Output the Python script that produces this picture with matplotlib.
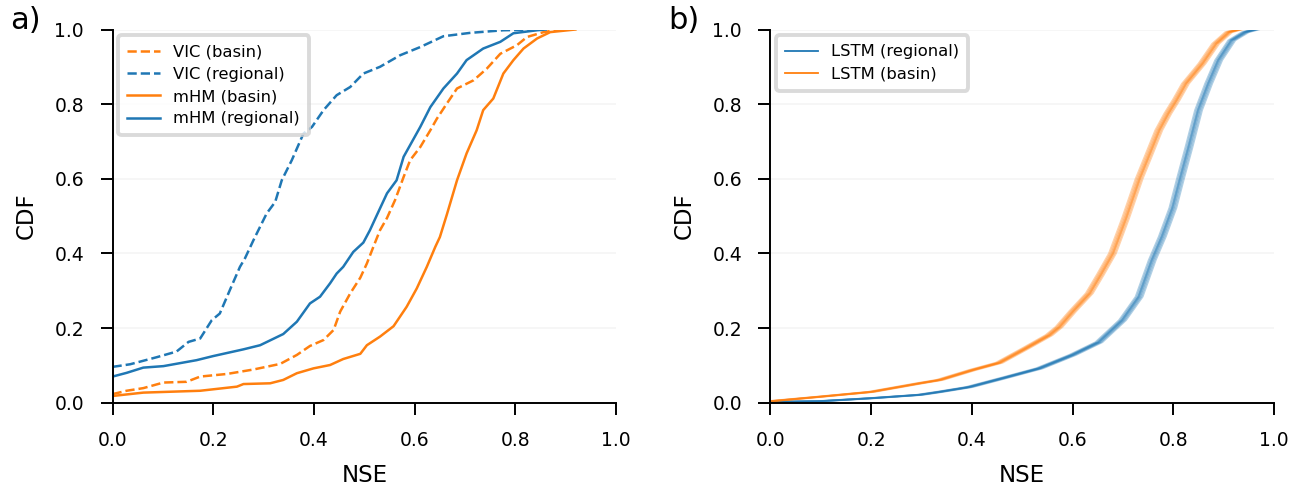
import matplotlib.pyplot as plt

# benchmark models: (NSE, CDF) pairs
vic_basin_nse = [0.0, 0.028, 0.061, 0.101, 0.147, 0.174, 0.227, 0.280, 0.333, 0.366, 0.392, 0.419, 0.439,
                 0.452, 0.472, 0.492, 0.505, 0.518, 0.531, 0.545, 0.561, 0.578, 0.591, 0.611, 0.631, 0.644,
                 0.664, 0.684, 0.717, 0.743, 0.770, 0.803, 0.823, 0.856, 0.889]
vic_basin_cdf = [0.023, 0.032, 0.039, 0.054, 0.056, 0.070, 0.077, 0.089, 0.104, 0.128, 0.152, 0.168, 0.195,
                 0.244, 0.293, 0.335, 0.373, 0.418, 0.462, 0.495, 0.543, 0.605, 0.650, 0.685, 0.730, 0.761,
                 0.802, 0.842, 0.864, 0.895, 0.935, 0.958, 0.980, 0.993, 1.0]

vic_regional_nse = [0.0, 0.035, 0.088, 0.127, 0.151, 0.174, 0.197, 0.213, 0.233, 0.253, 0.263, 0.280, 0.306,
                    0.323, 0.336, 0.356, 0.379, 0.396, 0.419, 0.445, 0.472, 0.498, 0.531, 0.571, 0.611, 0.657,
                    0.710, 0.776, 0.855]
vic_regional_cdf = [0.096, 0.103, 0.122, 0.137, 0.163, 0.172, 0.221, 0.239, 0.302, 0.364, 0.387, 0.436, 0.507,
                    0.538, 0.596, 0.650, 0.721, 0.739, 0.784, 0.824, 0.846, 0.882, 0.900, 0.931, 0.953, 0.982,
                    0.991, 0.998, 1.0]

mhm_basin_nse = [0.0, 0.061, 0.174, 0.247, 0.260, 0.313, 0.339, 0.366, 0.399, 0.432, 0.458, 0.492, 0.505,
                 0.531, 0.558, 0.584, 0.604, 0.624, 0.641, 0.650, 0.664, 0.684, 0.703, 0.723, 0.736, 0.756,
                 0.776, 0.796, 0.816, 0.843, 0.869, 0.919]
mhm_basin_cdf = [0.018, 0.027, 0.032, 0.043, 0.050, 0.052, 0.061, 0.079, 0.092, 0.101, 0.117, 0.131, 0.154,
                 0.177, 0.205, 0.257, 0.306, 0.364, 0.418, 0.444, 0.505, 0.596, 0.668, 0.730, 0.784, 0.815,
                 0.882, 0.918, 0.949, 0.976, 0.993, 1.0]

mhm_regional_nse = [0.0, 0.028, 0.061, 0.101, 0.167, 0.200, 0.260, 0.293, 0.339, 0.366, 0.392, 0.412, 0.432,
                    0.445, 0.458, 0.478, 0.498, 0.511, 0.525, 0.545, 0.564, 0.578, 0.611, 0.631, 0.657, 0.684,
                    0.703, 0.736, 0.770, 0.796, 0.843, 0.860]
mhm_regional_cdf = [0.070, 0.080, 0.094, 0.098, 0.114, 0.125, 0.143, 0.154, 0.184, 0.217, 0.266, 0.284, 0.320,
                    0.346, 0.364, 0.404, 0.429, 0.462, 0.503, 0.561, 0.596, 0.659, 0.739, 0.792, 0.842, 0.882,
                    0.918, 0.949, 0.967, 0.990, 0.998, 1.0]

# LSTM ensembles
lstm_basin_nse = [0.0, 0.098, 0.200, 0.296, 0.336, 0.402, 0.454, 0.507, 0.553, 0.573, 0.600, 0.633, 0.655,
                  0.679, 0.705, 0.732, 0.751, 0.771, 0.789, 0.806, 0.824, 0.857, 0.884, 0.910, 0.930]
lstm_basin_cdf = [0.004, 0.016, 0.029, 0.052, 0.061, 0.088, 0.107, 0.146, 0.181, 0.203, 0.245, 0.293, 0.343,
                  0.400, 0.494, 0.600, 0.663, 0.730, 0.775, 0.812, 0.855, 0.909, 0.962, 0.993, 1.0]

lstm_regional_nse = [0.0, 0.098, 0.200, 0.296, 0.336, 0.395, 0.468, 0.534, 0.600, 0.652, 0.699, 0.732, 0.758,
                     0.778, 0.799, 0.814, 0.831, 0.850, 0.870, 0.890, 0.916, 0.943, 0.963]
lstm_regional_cdf = [0.002, 0.004, 0.012, 0.021, 0.029, 0.042, 0.068, 0.092, 0.128, 0.162, 0.221, 0.284, 0.382,
                     0.445, 0.522, 0.600, 0.685, 0.784, 0.855, 0.918, 0.971, 0.993, 1.0]

# per-member NSE offsets of the ensemble runs
member_shift = [-0.007, -0.004, -0.002, 0.0, 0.002, 0.004, 0.007, -0.001]

blue = '#1f77b4'
orange = '#ff7f0e'

plt.rcParams['font.family'] = 'DejaVu Sans'

fig = plt.figure(figsize=(12.98, 4.87), dpi=100)
ax1 = fig.add_axes([0.0867, 0.1731, 0.3880, 0.7663])
ax2 = fig.add_axes([0.5936, 0.1731, 0.3880, 0.7663])

ax1.plot(vic_basin_nse, vic_basin_cdf, '--', color=orange, lw=1.8, label='VIC (basin)')
ax1.plot(vic_regional_nse, vic_regional_cdf, '--', color=blue, lw=1.8, label='VIC (regional)')
ax1.plot(mhm_basin_nse, mhm_basin_cdf, '-', color=orange, lw=1.8, label='mHM (basin)')
ax1.plot(mhm_regional_nse, mhm_regional_cdf, '-', color=blue, lw=1.8, label='mHM (regional)')

for i, s in enumerate(member_shift):
    ax2.plot([x + s for x in lstm_regional_nse], lstm_regional_cdf, color=blue, lw=1.3, alpha=0.35,
             label='LSTM (regional)' if i == 0 else None)
for i, s in enumerate(member_shift):
    ax2.plot([x - s for x in lstm_basin_nse], lstm_basin_cdf, color=orange, lw=1.3, alpha=0.35,
             label='LSTM (basin)' if i == 0 else None)

for ax in (ax1, ax2):
    ax.set_xlim(0, 1)
    ax.set_ylim(0, 1)
    ax.set_xticks([0, 0.2, 0.4, 0.6, 0.8, 1.0])
    ax.set_yticks([0, 0.2, 0.4, 0.6, 0.8, 1.0])
    ax.xaxis.set_major_formatter(plt.FormatStrFormatter('%.1f'))
    ax.yaxis.set_major_formatter(plt.FormatStrFormatter('%.1f'))
    ax.spines['top'].set_visible(False)
    ax.spines['right'].set_visible(False)
    ax.spines['left'].set_linewidth(1.4)
    ax.spines['bottom'].set_linewidth(1.4)
    ax.tick_params(length=8.5, width=1.4, pad=12, labelsize=13.5)
    ax.yaxis.grid(True, color='0.96', lw=1.2)
    ax.set_axisbelow(True)
    ax.set_xlabel('NSE', fontsize=16.5, labelpad=10)
    ax.set_ylabel('CDF', fontsize=16.5, labelpad=12)
    leg = ax.legend(loc='upper left', fontsize=11.8, borderaxespad=0.35, borderpad=0.55,
                    labelspacing=0.45, fancybox=True)
    leg.get_frame().set_linewidth(2.8)
    leg.get_frame().set_edgecolor('0.82')
    for h in leg.legend_handles:
        h.set_alpha(1)

fig.text(0.008, 0.958, 'a)', fontsize=22, va='center')
fig.text(0.515, 0.958, 'b)', fontsize=22, va='center')

fig.savefig('out.png', dpi=100)
